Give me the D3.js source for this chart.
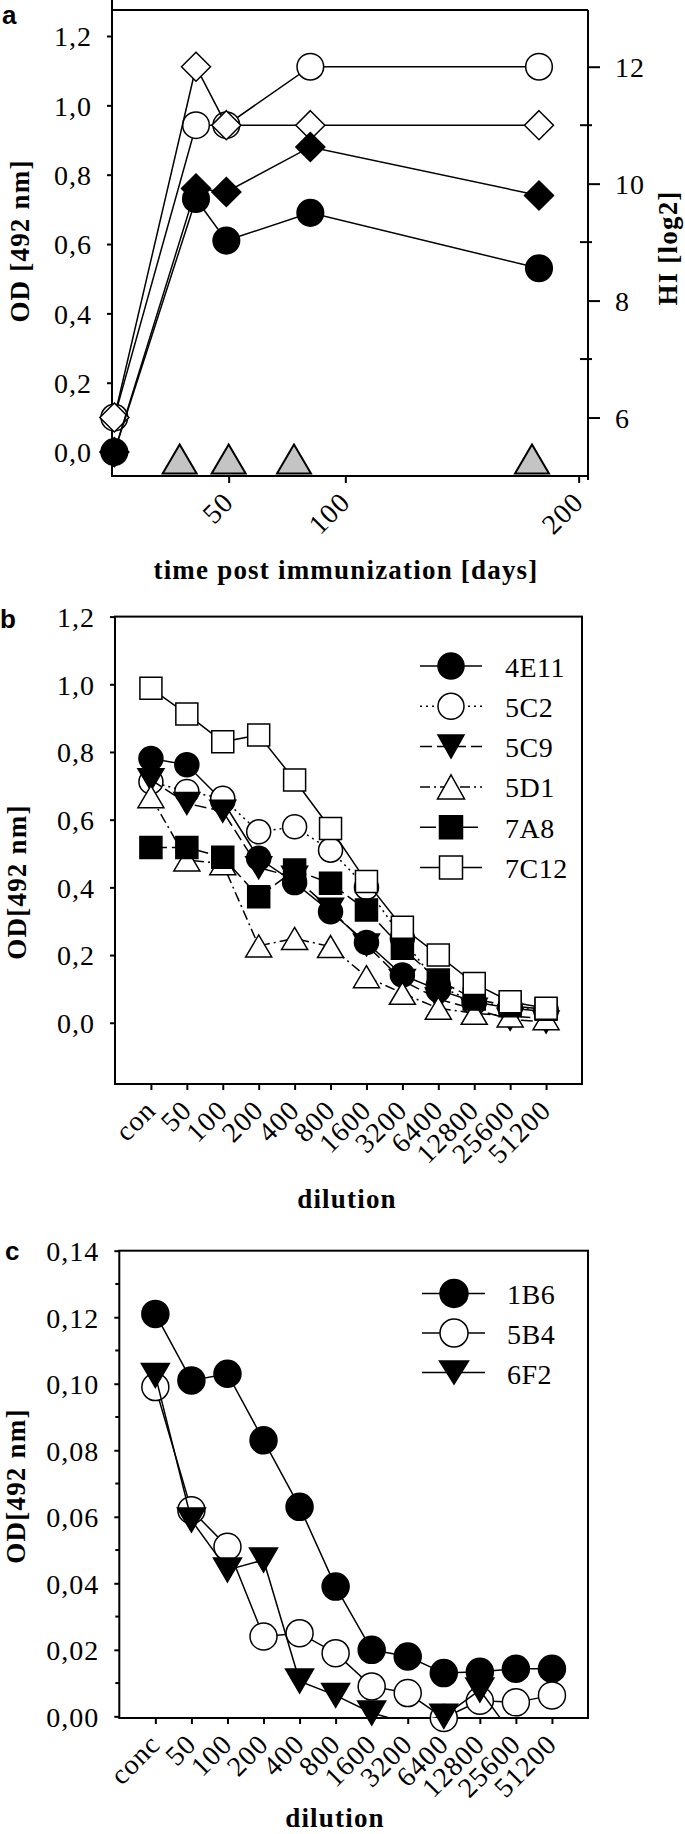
<!DOCTYPE html>
<html><head><meta charset="utf-8">
<script src="https://cdn.jsdelivr.net/npm/d3@7"></script>
<style>
body{margin:0;background:#fff;}
svg{display:block;background:#fff;}
</style></head><body>
<svg id="chart" width="685" height="1834"></svg>
<script>
// ---------------- DATA ----------------
// Panel a
const daysA = [1, 36, 49, 85, 183];
const odFilledCircleA = [0.00, 0.73, 0.61, 0.69, 0.53];
const odFilledDiamondA = [0.00, 0.76, 0.75, 0.88, 0.74];
const hiOpenCircleA = [6, 11, 11, 12, 12];
const hiOpenDiamondA = [6, 12, 11, 11, 11];
const triangleDaysA = [29, 50, 78, 180];
const triangleHIA = [5, 5, 5, 5];
const odTicksA = [0, 0.2, 0.4, 0.6, 0.8, 1.0, 1.2];
const hiTicksA = [6, 8, 10, 12];
const hiMinorTicksA = [7, 9, 11];
const dayTicksA = [50, 100, 200];

// Panel b
const dilutionsB = ["con", "50", "100", "200", "400", "800", "1600", "3200", "6400", "12800", "25600", "51200"];
const seriesNamesB = ["4E11", "5C2", "5C9", "5D1", "7A8", "7C12"];
const od4E11 = [0.781, 0.762, 0.655, 0.486, 0.414, 0.328, 0.237, 0.141, 0.097, 0.062, 0.043, 0.033];
const od5C2  = [0.712, 0.683, 0.663, 0.564, 0.579, 0.510, 0.400, 0.250, 0.110, 0.060, 0.048, 0.038];
const od5C9  = [0.718, 0.648, 0.625, 0.458, 0.430, 0.335, 0.230, 0.125, 0.070, 0.040, 0.010, 0.002];
const od5D1  = [0.668, 0.481, 0.470, 0.227, 0.249, 0.225, 0.136, 0.087, 0.043, 0.028, 0.020, 0.012];
const od7A8  = [0.518, 0.518, 0.489, 0.372, 0.451, 0.412, 0.333, 0.220, 0.126, 0.070, 0.050, 0.040];
const od7C12 = [0.988, 0.912, 0.830, 0.850, 0.717, 0.574, 0.417, 0.282, 0.200, 0.116, 0.062, 0.043];
const odTicksB = [0, 0.2, 0.4, 0.6, 0.8, 1.0, 1.2];

// Panel c
const dilutionsC = ["conc", "50", "100", "200", "400", "800", "1600", "3200", "6400", "12800", "25600", "51200"];
const seriesNamesC = ["1B6", "5B4", "6F2"];
const od1B6 = [0.121, 0.101, 0.103, 0.083, 0.063, 0.039, 0.020, 0.018, 0.013, 0.0134, 0.0143, 0.0143];
const od5B4 = [0.099, 0.062, 0.051, 0.024, 0.025, 0.019, 0.009, 0.007, -0.0005, 0.0047, 0.0042, 0.0063];
const od6F2 = [0.1025, 0.059, 0.044, 0.047, 0.0106, 0.0063, 0.001, -0.002, 0.0, 0.0079, -0.007, -0.006];
const odMajorTicksC = [0, 0.02, 0.04, 0.06, 0.08, 0.10, 0.12, 0.14];
const odMinorTicksC = [0.01, 0.03, 0.05, 0.07, 0.09, 0.11, 0.13];

// ---------------- HELPERS ----------------
const SERIF = '"Liberation Serif", "Times New Roman", serif';
const SANS = '"Liberation Sans", Arial, sans-serif';
const svg = d3.select("#chart");
const locale = d3.formatLocale({decimal: ",", thousands: ".", grouping: [3], currency: ["", ""]});
const f1 = locale.format(".1f"), f2 = locale.format(".2f");
const AX = 2; // axis stroke width
const TICK_FS = 28;

function markerPath(shape, s) {
  if (shape === "circle") { const p = d3.path(); p.arc(0, 0, s, 0, 2 * Math.PI); p.closePath(); return p.toString(); }
  if (shape === "diamond") return `M0,${-s}L${s},0L0,${s}L${-s},0Z`;
  if (shape === "square") return `M${-s},${-s}H${s}V${s}H${-s}Z`;
  if (shape === "triUp") { const w = s[0], h = s[1]; return `M0,${-h/2}L${w/2},${h/2}L${-w/2},${h/2}Z`; }
  if (shape === "triDown") { const w = s[0], h = s[1]; return `M0,${h/2}L${w/2},${-h/2}L${-w/2},${-h/2}Z`; }
  if (shape === "triBase") { const w = s[0], h = s[1]; return `M0,${-h}L${w/2},0L${-w/2},0Z`; }
}

function drawSeries(g, xs, ys, xScale, yScale, o) {
  const pts = xs.map((x, i) => ({x: xScale(x), y: yScale(ys[i]), v: ys[i]}));
  if (o.line !== false) {
    g.append("path")
      .attr("d", d3.line().x(d => d.x).y(d => d.y)(pts))
      .attr("fill", "none").attr("stroke", "#000")
      .attr("stroke-width", o.lw || 1.5)
      .attr("stroke-dasharray", o.dash || null)
      .attr("clip-path", o.clip || null);
  }
  const minV = (o.minVal === undefined) ? -Infinity : o.minVal;
  g.append("g").selectAll("path").data(pts.filter(d => d.v >= minV)).join("path")
    .attr("transform", d => `translate(${d.x},${d.y + (o.yOff || 0)})`)
    .attr("d", markerPath(o.shape, o.size))
    .attr("fill", o.fill).attr("stroke", "#000").attr("stroke-width", o.sw || 1.5);
}

function styleTicks(g, fs) {
  g.select(".domain").remove();
  g.selectAll(".tick line").attr("stroke", "#000").attr("stroke-width", AX);
  g.selectAll(".tick text").attr("font-family", SERIF).attr("font-size", fs)
    .attr("fill", "#000").attr("letter-spacing", 1);
}

function rotateXLabels(g) {
  g.selectAll(".tick text")
    .attr("x", 0).attr("y", 0).attr("dy", 0)
    .attr("text-anchor", "end")
    .attr("transform", "translate(6,28) rotate(-45)");
}

function box(g, x0, x1, y0, y1) {
  g.append("rect").attr("x", x0).attr("y", y0).attr("width", x1 - x0).attr("height", y1 - y0)
    .attr("fill", "none").attr("stroke", "#000").attr("stroke-width", AX);
}

function rotLabel(txt, x, y) {
  svg.append("text").attr("transform", `translate(${x},${y}) rotate(-90)`)
    .attr("text-anchor", "middle").attr("dominant-baseline", "central")
    .attr("font-family", SERIF).attr("font-weight", "bold").attr("font-size", 27)
    .attr("letter-spacing", 1.2).text(txt);
}
function panelLetter(txt, x, y) {
  svg.append("text").attr("x", x).attr("y", y).attr("font-family", SANS)
    .attr("font-weight", "bold").attr("font-size", 26).text(txt);
}
function xTitle(txt, x, y) {
  svg.append("text").attr("x", x).attr("y", y).attr("text-anchor", "middle")
    .attr("font-family", SERIF).attr("font-weight", "bold").attr("font-size", 27)
    .attr("letter-spacing", 1.2).text(txt);
}

// ---------------- PANEL A ----------------
{
  const xA = d3.scaleLinear().domain([0, 204]).range([112, 588]);
  const yOD = d3.scaleLinear().domain([-0.069, 1.275]).range([476, 10]);
  const yHI = d3.scaleLinear().domain([5, 12.97]).range([476, 10]);
  const g = svg.append("g");
  const [L, R] = xA.range(), [B, T] = yOD.range();

  // frame
  g.append("line").attr("x1", L).attr("x2", L).attr("y1", 0).attr("y2", B + 1).attr("stroke", "#000").attr("stroke-width", AX);
  g.append("line").attr("x1", L).attr("x2", R).attr("y1", T).attr("y2", T).attr("stroke", "#000").attr("stroke-width", AX);
  g.append("line").attr("x1", R).attr("x2", R).attr("y1", T).attr("y2", B + 4).attr("stroke", "#000").attr("stroke-width", AX);
  g.append("line").attr("x1", L).attr("x2", R).attr("y1", B).attr("y2", B).attr("stroke", "#000").attr("stroke-width", AX);

  const gl = g.append("g").attr("transform", `translate(${L},0)`)
    .call(d3.axisLeft(yOD).tickValues(odTicksA).tickFormat(f1).tickSize(5).tickPadding(15));
  styleTicks(gl, TICK_FS);
  gl.selectAll(".tick text").attr("dy", "0.35em");

  const gr = g.append("g").attr("transform", `translate(${R},0)`)
    .call(d3.axisRight(yHI).tickValues(hiTicksA).tickSize(12).tickPadding(15));
  styleTicks(gr, TICK_FS);
  gr.selectAll(".tick text").attr("dy", "0.35em");
  g.append("g").selectAll("line").data(hiMinorTicksA).join("line")
    .attr("x1", R - 8).attr("x2", R + 4).attr("y1", d => yHI(d)).attr("y2", d => yHI(d))
    .attr("stroke", "#000").attr("stroke-width", AX);

  const gb = g.append("g").attr("transform", `translate(0,${B})`)
    .call(d3.axisBottom(xA).tickValues(dayTicksA).tickSize(7));
  styleTicks(gb, TICK_FS);
  rotateXLabels(gb);

  const gd = g.append("g");
  drawSeries(gd, daysA, hiOpenCircleA, xA, yHI, {shape: "circle", size: 13.3, fill: "#fff"});
  drawSeries(gd, daysA, hiOpenDiamondA, xA, yHI, {shape: "diamond", size: 14.5, fill: "#fff"});
  drawSeries(gd, daysA, odFilledCircleA, xA, yOD, {shape: "circle", size: 13.3, fill: "#000"});
  drawSeries(gd, daysA, odFilledDiamondA, xA, yOD, {shape: "diamond", size: 14.5, fill: "#000"});
  drawSeries(gd, triangleDaysA, triangleHIA, xA, yHI, {line: false, shape: "triBase", size: [34, 29], fill: "#c4c4c4", sw: 2, yOff: -2.5});

  rotLabel("OD [492 nm]", 20, 241);
  rotLabel("HI [log2]", 668, 248);
  panelLetter("a", 2, 24);
  xTitle("time post immunization [days]", 346, 579);
}

// ---------------- PANEL B ----------------
{
  const xB = d3.scalePoint().domain(dilutionsB).range([115, 582]).padding(1);
  const yB = d3.scaleLinear().domain([-0.181, 1.2]).range([1084, 616.6]);
  const g = svg.append("g");
  const [L, R] = xB.range(), [B, T] = yB.range();
  box(g, L, R, T, B);

  const gl = g.append("g").attr("transform", `translate(${L},0)`)
    .call(d3.axisLeft(yB).tickValues(odTicksB).tickFormat(f1).tickSize(5).tickPadding(15));
  styleTicks(gl, TICK_FS);
  gl.selectAll(".tick text").attr("dy", "0.35em");

  const gb = g.append("g").attr("transform", `translate(0,${B})`)
    .call(d3.axisBottom(xB).tickSize(6));
  styleTicks(gb, TICK_FS);
  rotateXLabels(gb);

  const clipId = "clipB";
  svg.append("clipPath").attr("id", clipId).append("rect")
    .attr("x", L).attr("y", T).attr("width", R - L).attr("height", B - T);

  const styles = [
    {vals: od4E11, shape: "circle", size: 12, fill: "#000", dash: null},
    {vals: od5C2, shape: "circle", size: 12, fill: "#fff", dash: "2,4"},
    {vals: od5C9, shape: "triDown", size: [26, 22], fill: "#000", dash: "12,5"},
    {vals: od5D1, shape: "triUp", size: [26, 22], fill: "#fff", dash: "10,4,2,4"},
    {vals: od7A8, shape: "square", size: 11, fill: "#000", dash: "16,5"},
    {vals: od7C12, shape: "square", size: 11, fill: "#fff", dash: null}
  ];
  const gd = g.append("g");
  styles.forEach(s => drawSeries(gd, dilutionsB, s.vals, xB, yB,
    {shape: s.shape, size: s.size, fill: s.fill, dash: s.dash, clip: `url(#${clipId})`}));

  // legend
  const legSizes = [13, 13, [26, 23], [27, 24], 11.5, 11.5];
  const lg = g.append("g");
  seriesNamesB.forEach((name, i) => {
    const y = 666 + i * 40.3;
    lg.append("line").attr("x1", 420).attr("x2", 482).attr("y1", y).attr("y2", y)
      .attr("stroke", "#000").attr("stroke-width", 1.5).attr("stroke-dasharray", styles[i].dash);
    lg.append("path").attr("transform", `translate(451,${y})`).attr("d", markerPath(styles[i].shape, legSizes[i]))
      .attr("fill", styles[i].fill).attr("stroke", "#000").attr("stroke-width", 1.5);
    lg.append("text").attr("x", 505).attr("y", y + 10.5).attr("font-family", SERIF)
      .attr("font-size", 28).attr("letter-spacing", 0.5).text(name);
  });

  rotLabel("OD[492 nm]", 17, 882);
  panelLetter("b", 0, 628);
  xTitle("dilution", 347, 1208);
}

// ---------------- PANEL C ----------------
{
  const xC = d3.scalePoint().domain(dilutionsC).range([119.3, 588]).padding(1);
  const yC = d3.scaleLinear().domain([-0.0005, 0.14]).range([1718, 1250.7]);
  const g = svg.append("g");
  const [L, R] = xC.range(), [B, T] = yC.range();
  box(g, L, R, T, B);

  const gl = g.append("g").attr("transform", `translate(${L},0)`)
    .call(d3.axisLeft(yC).tickValues(odMajorTicksC).tickFormat(f2).tickSize(5).tickPadding(15));
  styleTicks(gl, TICK_FS);
  gl.selectAll(".tick text").attr("dy", "0.35em");
  g.append("g").selectAll("line").data(odMinorTicksC).join("line")
    .attr("x1", L - 4).attr("x2", L).attr("y1", d => yC(d)).attr("y2", d => yC(d))
    .attr("stroke", "#000").attr("stroke-width", AX);

  const gb = g.append("g").attr("transform", `translate(0,${B})`)
    .call(d3.axisBottom(xC).tickSize(6));
  styleTicks(gb, TICK_FS);
  rotateXLabels(gb);

  const clipId = "clipC";
  svg.append("clipPath").attr("id", clipId).append("rect")
    .attr("x", L).attr("y", T).attr("width", R - L).attr("height", B - T);

  const styles = [
    {vals: od1B6, shape: "circle", size: 13.5, fill: "#000"},
    {vals: od5B4, shape: "circle", size: 13.5, fill: "#fff"},
    {vals: od6F2, shape: "triDown", size: [28, 24], fill: "#000"}
  ];
  const gd = g.append("g");
  styles.forEach(s => drawSeries(gd, dilutionsC, s.vals, xC, yC,
    {shape: s.shape, size: s.size, fill: s.fill, clip: `url(#${clipId})`, minVal: -0.001}));

  const legSizes = [14, 14, [29, 23]];
  const lg = g.append("g");
  seriesNamesC.forEach((name, i) => {
    const y = 1293.4 + i * 39.6;
    lg.append("line").attr("x1", 422).attr("x2", 485).attr("y1", y).attr("y2", y)
      .attr("stroke", "#000").attr("stroke-width", 1.5);
    lg.append("path").attr("transform", `translate(454,${y})`).attr("d", markerPath(styles[i].shape, legSizes[i]))
      .attr("fill", styles[i].fill).attr("stroke", "#000").attr("stroke-width", 1.5);
    lg.append("text").attr("x", 507).attr("y", y + 11).attr("font-family", SERIF)
      .attr("font-size", 28).attr("letter-spacing", 0.5).text(name);
  });

  rotLabel("OD[492 nm]", 16, 1486);
  panelLetter("c", 5, 1260);
  xTitle("dilution", 335, 1827);
}
</script></body></html>
